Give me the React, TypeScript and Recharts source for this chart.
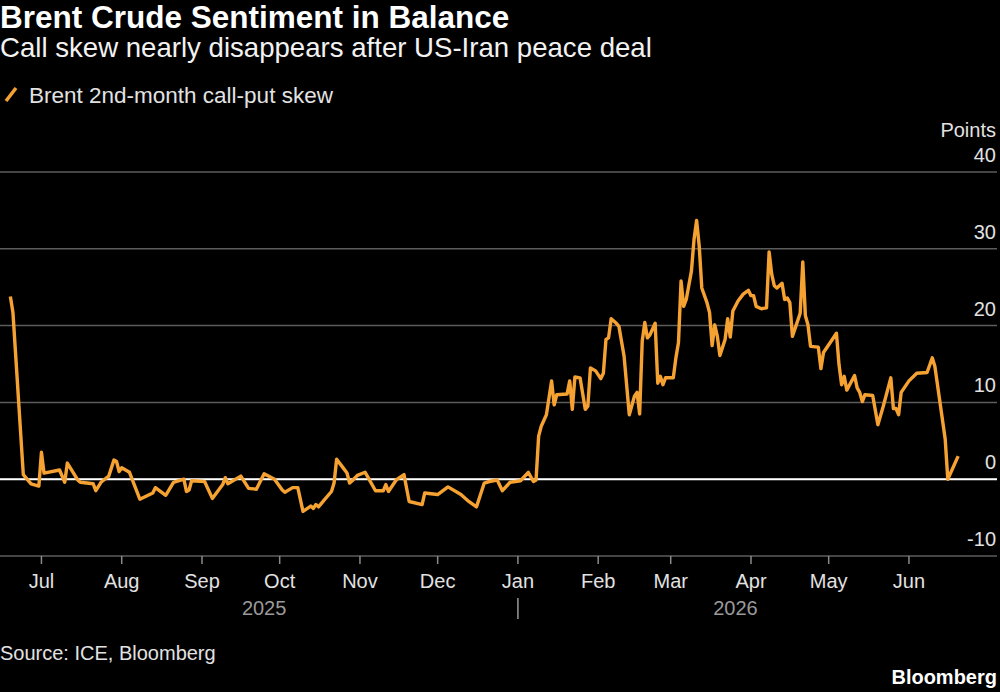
import { useLayoutEffect } from 'react';
import { CartesianGrid, Line, LineChart, ReferenceLine, XAxis, YAxis } from 'recharts';

// Brent 2nd-month 25-delta call minus put implied vol, in points
const dates = [
  '2025-06-19', '2025-06-20', '2025-06-24', '2025-06-27', '2025-06-30',
  '2025-07-01', '2025-07-02', '2025-07-08', '2025-07-10', '2025-07-11', '2025-07-15', '2025-07-16', '2025-07-21', '2025-07-22', '2025-07-24', '2025-07-27', '2025-07-29', '2025-07-30', '2025-07-31',
  '2025-08-01', '2025-08-04', '2025-08-08', '2025-08-13', '2025-08-14', '2025-08-18', '2025-08-21', '2025-08-25', '2025-08-26', '2025-08-27', '2025-08-28',
  '2025-09-02', '2025-09-05', '2025-09-09', '2025-09-10', '2025-09-11', '2025-09-16', '2025-09-19', '2025-09-22', '2025-09-25', '2025-09-29',
  '2025-10-02', '2025-10-03', '2025-10-06', '2025-10-08', '2025-10-10', '2025-10-13', '2025-10-14', '2025-10-15', '2025-10-16', '2025-10-18', '2025-10-21', '2025-10-22', '2025-10-23', '2025-10-25', '2025-10-27', '2025-10-28', '2025-10-29', '2025-10-31',
  '2025-11-03', '2025-11-04', '2025-11-07', '2025-11-10', '2025-11-11', '2025-11-12', '2025-11-15', '2025-11-18', '2025-11-20', '2025-11-25', '2025-11-26',
  '2025-12-01', '2025-12-05', '2025-12-10', '2025-12-13', '2025-12-16', '2025-12-19', '2025-12-21', '2025-12-24', '2025-12-26', '2025-12-29',
  '2026-01-02', '2026-01-05', '2026-01-07', '2026-01-08', '2026-01-09', '2026-01-10', '2026-01-12', '2026-01-14', '2026-01-15', '2026-01-16', '2026-01-20', '2026-01-21', '2026-01-22', '2026-01-23', '2026-01-25', '2026-01-27', '2026-01-28', '2026-01-29', '2026-01-31',
  '2026-02-02', '2026-02-03', '2026-02-04', '2026-02-05', '2026-02-06', '2026-02-08', '2026-02-09', '2026-02-11', '2026-02-13', '2026-02-15', '2026-02-16', '2026-02-17', '2026-02-18', '2026-02-19', '2026-02-20', '2026-02-21', '2026-02-23', '2026-02-24', '2026-02-25', '2026-02-26', '2026-02-27',
  '2026-03-02', '2026-03-03', '2026-03-04', '2026-03-05', '2026-03-06', '2026-03-07', '2026-03-09', '2026-03-10', '2026-03-11', '2026-03-12', '2026-03-13', '2026-03-15', '2026-03-16', '2026-03-17', '2026-03-18', '2026-03-19', '2026-03-20', '2026-03-22', '2026-03-23', '2026-03-24', '2026-03-25', '2026-03-27', '2026-03-29', '2026-03-31',
  '2026-04-01', '2026-04-02', '2026-04-03', '2026-04-05', '2026-04-07', '2026-04-08', '2026-04-09', '2026-04-10', '2026-04-11', '2026-04-13', '2026-04-14', '2026-04-15', '2026-04-16', '2026-04-17', '2026-04-20', '2026-04-21', '2026-04-22', '2026-04-23', '2026-04-24', '2026-04-27', '2026-04-28', '2026-04-29',
  '2026-05-02', '2026-05-04', '2026-05-05', '2026-05-06', '2026-05-07', '2026-05-08', '2026-05-11', '2026-05-12', '2026-05-13', '2026-05-14', '2026-05-15', '2026-05-18', '2026-05-20', '2026-05-22', '2026-05-25', '2026-05-26', '2026-05-27', '2026-05-28', '2026-05-29',
  '2026-06-01', '2026-06-04', '2026-06-08', '2026-06-10', '2026-06-11', '2026-06-15', '2026-06-16', '2026-06-20',
];

const skew = [
  23.8, 21.7, 0.6, -0.6, -0.9,
  3.5, 0.8, 1.2, -0.4, 2.1, -0.1, -0.4, -0.6, -1.5, -0.4, 0.4, 2.5, 2.3, 1.0,
  1.5, 0.9, -2.6, -1.8, -1.1, -2.1, -0.4, 0.0, -1.6, -1.4, -0.2,
  -0.3, -2.5, -0.7, 0.2, -0.6, 0.4, -1.2, -1.3, 0.7, 0.0,
  -1.4, -1.7, -1.1, -1.1, -4.2, -3.5, -3.8, -3.3, -3.6, -2.8, -1.6, -0.5, 2.6, 1.7, 0.8, -0.5, -0.2, 0.5,
  0.9, 0.3, -1.5, -1.5, -0.7, -1.6, -0.1, 0.6, -2.9, -3.3, -1.8,
  -2.0, -1.0, -2.0, -2.9, -3.6, -0.5, -0.3, -0.1, -1.5, -0.4,
  -0.2, 0.9, -0.3, -0.1, 5.6, 6.9, 8.4, 12.8, 9.7, 11.0, 11.1, 12.8, 9.1, 13.3, 13.2, 9.1, 9.5, 14.5, 14.1,
  13.1, 13.8, 18.2, 18.4, 20.9, 20.3, 19.9, 16.0, 8.4, 10.8, 11.3, 8.5, 18.0, 20.4, 18.4, 18.8, 20.3, 12.5, 13.4, 12.3, 13.2,
  13.2, 15.8, 17.8, 25.8, 22.5, 23.4, 27.1, 31.2, 33.7, 30.4, 24.9, 23.0, 21.7, 17.4, 20.1, 18.6, 16.1, 18.2, 20.9, 18.5, 21.9, 23.2, 24.1, 24.6,
  23.9, 23.9, 22.5, 22.2, 22.3, 29.6, 26.7, 25.2, 24.9, 25.5, 23.4, 23.6, 23.0, 18.6, 21.6, 28.3, 21.3, 20.1, 17.3, 17.2, 14.4, 16.5,
  18.0, 19.0, 14.9, 12.3, 13.4, 11.6, 13.5, 11.9, 11.3, 10.1, 11.0, 10.9, 7.1, 9.4, 13.2, 9.2, 9.2, 8.4, 11.3,
  12.8, 13.8, 13.9, 15.8, 14.7, 5.2, 0.0, 3.0,
];

const monthTicks = [
  '2025-07-01', '2025-08-01', '2025-09-01', '2025-10-01', '2025-11-01', '2025-12-01',
  '2026-01-01', '2026-02-01', '2026-03-01', '2026-04-01', '2026-05-01', '2026-06-01',
];
const monthLabels = ['Jul', 'Aug', 'Sep', 'Oct', 'Nov', 'Dec', 'Jan', 'Feb', 'Mar', 'Apr', 'May', 'Jun'];

const yearTicks = ['2025-09-25', '2026-01-01', '2026-03-26'];
const yearLabels = ['2025', '|', '2026'];

const xRange = ['2025-06-15', '2026-07-05'];
const yTicks = [-10, 0, 10, 20, 30, 40];

const FONT = '"Liberation Sans", Arial, sans-serif';
const ORANGE = '#f6a232';
const LABEL = '#e2e2e2';

const ts = (d: string) => Date.parse(d);
const data = dates.map((d, i) => ({ t: ts(d), skew: skew[i] }));
const monthTs = monthTicks.map(ts);
const yearTs = yearTicks.map(ts);

function MonthTick({ x, y, payload }: any) {
  const label = monthLabels[monthTs.indexOf(payload.value)];
  return (
    <text x={x} y={y} dy={14} textAnchor='middle' fill={LABEL} fontSize={20} fontFamily={FONT}>
      {label}
    </text>
  );
}

function YearTick({ x, y, payload }: any) {
  const label = yearLabels[yearTs.indexOf(payload.value)];
  if (label === '|') {
    return <line x1={x} x2={x} y1={y - 6} y2={y + 15} stroke='#9a9a9a' strokeWidth={1.5} />;
  }
  return (
    <text x={x} y={y} dy={11} textAnchor='middle' fill='#9a9a9a' fontSize={20} fontFamily={FONT}>
      {label}
    </text>
  );
}

function ValueTick({ y, payload }: any) {
  return (
    <text x={996} y={y - 10} textAnchor='end' fill={LABEL} fontSize={20} fontFamily={FONT}>
      {payload.value}
    </text>
  );
}

export default function App() {
  useLayoutEffect(() => {
    document.body.style.margin = '0';
    document.body.style.background = '#000';
  }, []);

  return (
    <div style={{ position: 'relative', width: 1000, height: 692, background: '#000' }}>
      <LineChart
        width={1000}
        height={692}
        data={data}
        margin={{ top: 172, right: 3, bottom: 66, left: 0 }}
      >
        <CartesianGrid xAxisId='m' vertical={false} stroke='#5c5c5c' strokeWidth={1.5} />
        <XAxis
          xAxisId='m'
          dataKey='t'
          type='number'
          domain={xRange.map(ts)}
          ticks={monthTs}
          allowDataOverflow
          axisLine={false}
          tickLine={{ stroke: '#8a8a8a', strokeWidth: 1.5 }}
          tickSize={8}
          tickMargin={10}
          height={40}
          tick={<MonthTick />}
          interval={0}
        />
        <XAxis
          xAxisId='y'
          dataKey='t'
          type='number'
          domain={xRange.map(ts)}
          ticks={yearTs}
          allowDataOverflow
          axisLine={false}
          tickLine={false}
          height={30}
          tick={<YearTick />}
          interval={0}
        />
        <YAxis
          orientation='right'
          mirror
          width={40}
          domain={[-10, 40]}
          ticks={yTicks}
          axisLine={false}
          tickLine={false}
          tick={<ValueTick />}
          interval={0}
        />
        <ReferenceLine xAxisId='m' y={0} stroke='#ffffff' strokeWidth={2} />
        <Line
          xAxisId='m'
          type='linear'
          dataKey='skew'
          stroke={ORANGE}
          strokeWidth={3.4}
          strokeLinejoin='round'
          dot={false}
          isAnimationActive={false}
        />
      </LineChart>

      <svg
        width={1000}
        height={692}
        style={{ position: 'absolute', left: 0, top: 0, pointerEvents: 'none' }}
        fontFamily={FONT}
      >
        <text x={0} y={28} fill='#fff' fontSize={31.5} fontWeight='bold'>
          Brent Crude Sentiment in Balance
        </text>
        <text x={0} y={57} fill='#f2f2f2' fontSize={27.6}>
          Call skew nearly disappears after US-Iran peace deal
        </text>
        <line x1={6} y1={101} x2={16} y2={88} stroke={ORANGE} strokeWidth={3.5} />
        <text x={29} y={103} fill={LABEL} fontSize={22.5}>
          Brent 2nd-month call-put skew
        </text>
        <text x={996} y={137} fill={LABEL} fontSize={20} textAnchor='end'>
          Points
        </text>
        <text x={0} y={660} fill={LABEL} fontSize={20}>
          Source: ICE, Bloomberg
        </text>
        <text x={997} y={684} fill='#fff' fontSize={20} fontWeight='bold' textAnchor='end'>
          Bloomberg
        </text>
      </svg>
    </div>
  );
}
